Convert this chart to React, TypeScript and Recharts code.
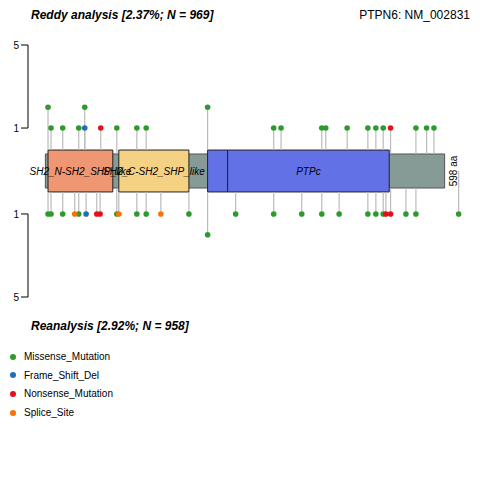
import React from 'react';
import { ComposedChart, XAxis, YAxis, Scatter, ReferenceArea, ReferenceLine, ReferenceDot } from 'recharts';

const PROTEIN_LEN = 598;
const domains = [
  { name: 'SH2_N-SH2_SHP_like', start: 4, end: 101, color: '#EF9672' },
  { name: 'SH2_C-SH2_SHP_like', start: 110, end: 215, color: '#F5D184' },
  { name: '', start: 243, end: 273, color: '#6272E6' },
  { name: 'PTPc', start: 273, end: 515, color: '#6272E6' },
];
const topMuts = [
  { pos: 4, n: 2, t: 'Missense_Mutation' }, { pos: 59, n: 2, t: 'Missense_Mutation' }, { pos: 243, n: 2, t: 'Missense_Mutation' },
  { pos: 8.5, n: 1, t: 'Missense_Mutation' }, { pos: 26, n: 1, t: 'Missense_Mutation' }, { pos: 50, n: 1, t: 'Missense_Mutation' },
  { pos: 59, n: 1, t: 'Frame_Shift_Del' }, { pos: 83, n: 1, t: 'Nonsense_Mutation' }, { pos: 107, n: 1, t: 'Missense_Mutation' },
  { pos: 137, n: 1, t: 'Missense_Mutation' }, { pos: 151, n: 1, t: 'Missense_Mutation' }, { pos: 342, n: 1, t: 'Missense_Mutation' },
  { pos: 353, n: 1, t: 'Missense_Mutation' }, { pos: 414, n: 1, t: 'Missense_Mutation' }, { pos: 420, n: 1, t: 'Missense_Mutation' },
  { pos: 452, n: 1, t: 'Missense_Mutation' }, { pos: 483, n: 1, t: 'Missense_Mutation' }, { pos: 495, n: 1, t: 'Missense_Mutation' },
  { pos: 506, n: 1, t: 'Missense_Mutation' }, { pos: 517, n: 1, t: 'Nonsense_Mutation' }, { pos: 555, n: 1, t: 'Missense_Mutation' },
  { pos: 571, n: 1, t: 'Missense_Mutation' }, { pos: 582, n: 1, t: 'Missense_Mutation' },
];
const botMuts = [
  { pos: 4, n: 1, t: 'Missense_Mutation' }, { pos: 8.5, n: 1, t: 'Missense_Mutation' }, { pos: 26, n: 1, t: 'Missense_Mutation' },
  { pos: 44, n: 1, t: 'Splice_Site' }, { pos: 50, n: 1, t: 'Missense_Mutation' }, { pos: 61, n: 1, t: 'Frame_Shift_Del' },
  { pos: 77, n: 1, t: 'Nonsense_Mutation' }, { pos: 82, n: 1, t: 'Nonsense_Mutation' }, { pos: 107, n: 1, t: 'Missense_Mutation' },
  { pos: 110, n: 1, t: 'Splice_Site' }, { pos: 137, n: 1, t: 'Missense_Mutation' }, { pos: 151, n: 1, t: 'Missense_Mutation' },
  { pos: 173, n: 1, t: 'Splice_Site' }, { pos: 215, n: 1, t: 'Missense_Mutation' }, { pos: 243, n: 2, t: 'Missense_Mutation' },
  { pos: 285, n: 1, t: 'Missense_Mutation' }, { pos: 342, n: 1, t: 'Missense_Mutation' }, { pos: 384, n: 1, t: 'Missense_Mutation' },
  { pos: 414, n: 1, t: 'Missense_Mutation' }, { pos: 440, n: 1, t: 'Missense_Mutation' }, { pos: 483, n: 1, t: 'Missense_Mutation' },
  { pos: 495, n: 1, t: 'Missense_Mutation' }, { pos: 506, n: 1, t: 'Missense_Mutation' }, { pos: 510, n: 1, t: 'Nonsense_Mutation' },
  { pos: 517, n: 1, t: 'Nonsense_Mutation' }, { pos: 540, n: 1, t: 'Missense_Mutation' }, { pos: 555, n: 1, t: 'Missense_Mutation' },
  { pos: 619, n: 1, t: 'Missense_Mutation' },
];
const types = ['Missense_Mutation', 'Frame_Shift_Del', 'Nonsense_Mutation', 'Splice_Site'];
const typeColors: Record<string, string> = {
  Missense_Mutation: '#2C9A2C', Frame_Shift_Del: '#1F6FB4', Nonsense_Mutation: '#E3101C', Splice_Site: '#FF7000',
};
const yTickVals = [-6.07, -2.07, 2.07, 6.07];
const yTickLabels = ['5', '1', '1', '5'];

const OFF = 1.07;
const BB = 0.82;
const DH = 1.01;
const font = 'Liberation Sans, Arial, Helvetica, sans-serif';

const stemBase = (pos: number) =>
  domains.some(d => pos >= d.start && pos <= d.end) ? DH : pos >= 0 && pos <= PROTEIN_LEN ? BB : 0;

const pts = (t: string) => [
  ...topMuts.filter(m => m.t === t).map(m => ({ x: m.pos, y: m.n + OFF })),
  ...botMuts.filter(m => m.t === t).map(m => ({ x: m.pos, y: -(m.n + OFF) })),
];

export default function App() {
  return (
    <div style={{ position: 'absolute', left: 0, top: 0, width: 480, height: 480, fontFamily: font, background: '#fff' }}>
      <ComposedChart width={480} height={480} margin={{ top: 45, right: 18, bottom: 183, left: 0 }}>
        <XAxis type="number" dataKey="x" domain={[-26, 624]} hide allowDataOverflow />
        <YAxis type="number" dataKey="y" domain={[-6.07, 6.07]} ticks={yTickVals} width={28} tickSize={7}
          axisLine={false} tickLine={{ stroke: '#000' }}
          tick={{ fontSize: 10, fill: '#000', fontFamily: font }}
          tickFormatter={(v: number) => yTickLabels[yTickVals.indexOf(v)]} />
        <ReferenceLine segment={[{ x: -26, y: 2.07 }, { x: -26, y: 6.07 }]} stroke="#000" />
        <ReferenceLine segment={[{ x: -26, y: -2.07 }, { x: -26, y: -6.07 }]} stroke="#000" />
        <ReferenceArea x1={0} x2={PROTEIN_LEN} y1={-BB} y2={BB} fill="#869A96" fillOpacity={1} stroke="#555" strokeWidth={1} />
        {domains.map((d, i) => (
          <ReferenceArea key={'d' + i} x1={d.start} x2={d.end} y1={-DH} y2={DH} fill={d.color} fillOpacity={1} stroke="#222" strokeWidth={1}
            label={d.name ? { value: d.name, position: 'center', fontSize: 10, fontStyle: 'italic', fill: '#000', fontFamily: font } as any : undefined} />
        ))}
        {topMuts.map((m, i) => (
          <ReferenceLine key={'ts' + i} segment={[{ x: m.pos, y: stemBase(m.pos) }, { x: m.pos, y: m.n + OFF }]} stroke="#bbbbbb" strokeWidth={1.2} />
        ))}
        {botMuts.map((m, i) => (
          <ReferenceLine key={'bs' + i} segment={[{ x: m.pos, y: -stemBase(m.pos) }, { x: m.pos, y: -(m.n + OFF) }]} stroke="#bbbbbb" strokeWidth={1.2} />
        ))}
        <ReferenceDot x={611} y={0} r={0} fill="none" stroke="none"
          label={{ value: PROTEIN_LEN + ' aa', angle: -90, fontSize: 10, fill: '#000', fontFamily: font } as any} />
        {types.map(t => (
          <Scatter key={t} data={pts(t)} fill={typeColors[t]} isAnimationActive={false}
            shape={(p: any) => <circle cx={p.cx} cy={p.cy} r={2.8} fill={typeColors[t]} />} />
        ))}
      </ComposedChart>
      <div style={{ position: 'absolute', left: 31, top: 8, fontSize: 12, fontWeight: 'bold', fontStyle: 'italic' }}>Reddy analysis [2.37%; N = 969]</div>
      <div style={{ position: 'absolute', right: 10, top: 8, fontSize: 12 }}>PTPN6: NM_002831</div>
      <div style={{ position: 'absolute', left: 31, top: 319, fontSize: 12, fontWeight: 'bold', fontStyle: 'italic' }}>Reanalysis [2.92%; N = 958]</div>
      {types.map((t, i) => (
        <div key={t} style={{ position: 'absolute', left: 10, top: 351 + i * 18.7, fontSize: 10, display: 'flex', alignItems: 'center' }}>
          <span style={{ width: 6, height: 6, borderRadius: 3, background: typeColors[t], display: 'inline-block', marginRight: 8 }} />
          {t}
        </div>
      ))}
    </div>
  );
}
